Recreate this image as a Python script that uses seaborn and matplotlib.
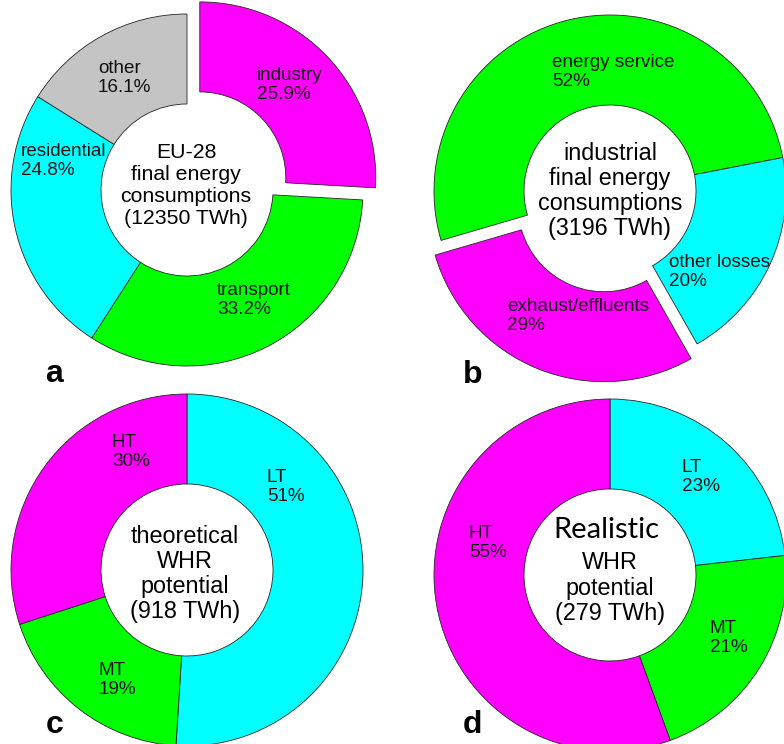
"""
Four donut charts: EU-28 final energy, industrial use, theoretical and realistic WHR potential.
"""
import matplotlib
matplotlib.use("Agg")
import matplotlib.pyplot as plt
import seaborn as sns

sns.set_theme(style="white")
plt.rcParams["font.family"] = ["Liberation Sans", "DejaVu Sans"]
plt.rcParams["text.color"] = "black"

W, H = 784, 744

# (a) EU-28 final energy consumption by sector, %
eu_sectors = ["industry", "transport", "residential", "other"]
eu_shares = [25.9, 33.2, 24.8, 16.1]

# (b) industrial final energy use, %
ind_uses = ["energy service", "other losses", "exhaust/effluents"]
ind_shares = [52, 20, 29]

# (c) theoretical WHR potential by temperature level, %
theo_levels = ["LT", "MT", "HT"]
theo_shares = [51, 19, 30]

# (d) realistic WHR potential by temperature level, %
real_levels = ["LT", "MT", "HT"]
real_shares = [23, 21, 55]

MAGENTA = "#FF00FF"
GREEN = "#00FF00"
CYAN = "#00FFFF"
GREY = "#C4C4C4"
COLORS = {
    "industry": MAGENTA, "transport": GREEN, "residential": CYAN, "other": GREY,
    "energy service": GREEN, "other losses": CYAN, "exhaust/effluents": MAGENTA,
    "LT": CYAN, "MT": GREEN, "HT": MAGENTA,
}

R_OUT = 176
RING = 90


def px(x, y):
    """Picture pixel coords -> data coords (y up)."""
    return x, H - y


def donut(ax, center, names, shares, startangle=90, exploded=None, dist=0.1):
    # pie's explode is an absolute offset in data units, so scale by radius
    explode = [dist * R_OUT if n == exploded else 0 for n in names]
    ax.pie(
        shares, colors=[COLORS[n] for n in names], startangle=startangle,
        counterclock=False, radius=R_OUT, center=px(*center), explode=explode,
        wedgeprops={"width": RING, "edgecolor": "#262626", "linewidth": 0.6},
    )


def slice_labels(ax, names, shares, positions, fmt):
    for name, share, (x, y) in zip(names, shares, positions):
        ax.text(*px(x, y), f"{name}\n{fmt.format(share)}%", ha="left", va="center",
                fontsize=13.6, linespacing=1.1, color="#111111")


fig = plt.figure(figsize=(W / 100, H / 100), dpi=100)
ax = fig.add_axes([0, 0, 1, 1])

# a
donut(ax, (187, 190), eu_sectors, eu_shares, startangle=90, exploded="industry", dist=0.1)
slice_labels(ax, eu_sectors, eu_shares,
             [(257, 85), (217, 300), (21, 161), (98, 78)], "{:.1f}")
ax.text(*px(186, 186), "EU-28\nfinal energy\nconsumptions\n(12350 TWh)",
        ha="center", va="center", fontsize=15.3, linespacing=1.2)

# b
donut(ax, (610, 191), ind_uses, ind_shares, startangle=196.3,
      exploded="exhaust/effluents", dist=0.09)
slice_labels(ax, ind_uses, ind_shares,
             [(552, 72), (669, 272), (507, 316)], "{:g}")
ax.text(*px(610, 191), "industrial\nfinal energy\nconsumptions\n(3196 TWh)",
        ha="center", va="center", fontsize=16.8, linespacing=1.12)

# c
donut(ax, (187, 570), theo_levels, theo_shares, startangle=90)
slice_labels(ax, theo_levels, theo_shares,
             [(267, 487), (99, 680), (112, 452)], "{:g}")
ax.text(*px(185, 574), "theoretical\nWHR\npotential\n(918 TWh)",
        ha="center", va="center", fontsize=16.8, linespacing=1.12)

# d
donut(ax, (610, 575), real_levels, real_shares, startangle=90)
slice_labels(ax, real_levels, real_shares,
             [(682, 477), (710, 638), (469, 543)], "{:g}")
ax.text(*px(606, 538), "Realistic", ha="center", va="baseline",
        fontsize=21, family=["Lato", "DejaVu Sans"])
ax.text(*px(610, 588), "WHR\npotential\n(279 TWh)",
        ha="center", va="center", fontsize=16.8, linespacing=1.12)

# panel letters
for letter, (x, y) in zip("abcd", [(45, 382), (463, 383), (46, 733), (463, 733)]):
    ax.text(*px(x, y), letter, ha="left", va="baseline", fontsize=23,
            fontweight="bold", color="black")

ax.set_xlim(0, W)
ax.set_ylim(0, H)
ax.set_aspect("equal")
ax.axis("off")

fig.savefig("out.png", dpi=100)
plt.close(fig)
